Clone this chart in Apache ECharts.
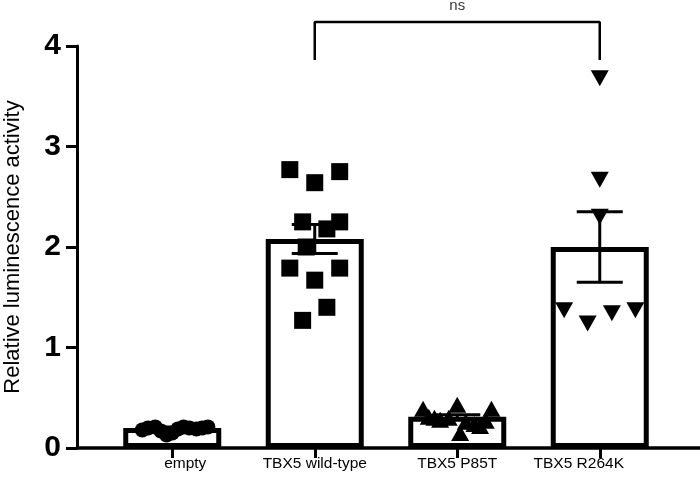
<!DOCTYPE html>
<html>
<head>
<meta charset="utf-8">
<script src="https://cdn.jsdelivr.net/npm/echarts@6/dist/echarts.min.js"></script>
<style>html,body{margin:0;padding:0;background:#fff}#c{width:700px;height:500px}</style>
</head>
<body>
<div id="c"></div>
<script>
var categories = ['empty', 'TBX5 wild-type', 'TBX5 P85T', 'TBX5 R264K'];
var means = [0.20, 2.08, 0.31, 2.00];
var sems = [0.01, 0.145, 0.02, 0.35];
var yTicks = [0, 1, 2, 3, 4];

// individual replicate values (y) and their horizontal jitter (in category units)
var emptyY  = [0.18, 0.20, 0.21, 0.17, 0.13, 0.15, 0.19, 0.21, 0.20, 0.19, 0.20, 0.21];
var emptyDx = [-0.21, -0.17, -0.12, -0.08, -0.04, 0.0, 0.04, 0.08, 0.12, 0.17, 0.21, 0.25];
var wtY  = [2.77, 2.64, 2.75, 2.25, 2.25, 2.18, 2.00, 1.79, 1.67, 1.79, 1.40, 1.27];
var wtDx = [-0.175, 0.0, 0.175, -0.085, 0.175, 0.085, -0.06, -0.175, 0.0, 0.175, 0.085, -0.085];
var p85Y  = [0.39, 0.43, 0.39, 0.31, 0.28, 0.30, 0.26, 0.24, 0.27, 0.30, 0.22, 0.15];
var p85Dx = [-0.24, 0.0, 0.24, -0.20, -0.12, -0.06, 0.06, 0.12, 0.20, -0.16, 0.16, 0.02];
var r264Y  = [3.68, 2.67, 2.30, 1.37, 1.24, 1.34, 1.37];
var r264Dx = [0.0, 0.0, 0.0, -0.25, -0.085, 0.085, 0.25];

// significance bracket between wild-type (1) and R264K (3)
var bracketX = [1, 1, 3, 3];
var bracketY = [3.86, 4.24, 4.24, 3.86];
var sigText = 'ns';
var sigPos = [2, 4.40];

function pts(ci, ys, dxs) {
  return ys.map(function (y, i) { return [ci + dxs[i], y]; });
}

var font = '"Liberation Sans", Arial, sans-serif';
var chart = echarts.init(document.getElementById('c'));
var errData = means.map(function (m, i) { return [i, m - sems[i], m + sems[i]]; });

chart.setOption({
  animation: false,
  backgroundColor: '#fff',
  grid: [
    { left: 77, right: 0, top: 46, bottom: 52, containLabel: false, outerBoundsMode: 'none' },
    { left: 101, right: 29, top: 46, bottom: 52, containLabel: false, outerBoundsMode: 'none' }
  ],
  xAxis: [
    { gridIndex: 0, type: 'value', min: 0, max: 1,
      axisLine: { show: true, lineStyle: { color: '#000', width: 3.5 } },
      axisTick: { show: false }, axisLabel: { show: false }, splitLine: { show: false } },
    { gridIndex: 1, type: 'category', data: categories,
      axisLine: { show: false },
      axisTick: { show: true, alignWithLabel: true, length: 10, lineStyle: { color: '#000', width: 3 } },
      axisLabel: { color: '#000', fontSize: 15.5, fontFamily: font, margin: 8,
        formatter: function (v, i) { return i === 0 ? '{r|' + v + '}' : (i === 3 ? '{l|' + v + '}' : v); },
        rich: {
          r: { color: '#000', fontSize: 15.5, fontFamily: font, padding: [0, 0, 0, 26] },
          l: { color: '#000', fontSize: 15.5, fontFamily: font, padding: [0, 42, 0, 0] }
        } } },
    { gridIndex: 1, type: 'value', min: -0.5, max: 3.5, show: false }
  ],
  yAxis: [
    { gridIndex: 0, type: 'value', min: yTicks[0], max: yTicks[yTicks.length - 1], interval: 1,
      name: 'Relative luminescence activity', nameLocation: 'middle', nameGap: 53,
      nameTextStyle: { color: '#000', fontSize: 22, fontFamily: font },
      axisLine: { show: true, lineStyle: { color: '#000', width: 3 } },
      axisTick: { show: true, length: 11, lineStyle: { color: '#000', width: 3 } },
      axisLabel: { color: '#000', fontSize: 30, fontWeight: 'bold', fontFamily: font, margin: 16 },
      splitLine: { show: false } },
    { gridIndex: 1, type: 'value', min: 0, max: 4, show: false }
  ],
  series: [
    { type: 'bar', xAxisIndex: 1, yAxisIndex: 1, data: means, barWidth: 98, z: 1,
      itemStyle: { color: '#fff', borderColor: '#000', borderWidth: 5 } },
    { type: 'custom', xAxisIndex: 1, yAxisIndex: 1, data: errData, z: 3,
      renderItem: function (params, api) {
        var lo = api.coord([api.value(0), api.value(1)]);
        var hi = api.coord([api.value(0), api.value(2)]);
        var hw = 23;
        var st = { stroke: '#000', lineWidth: 3 };
        return { type: 'group', children: [
          { type: 'line', shape: { x1: hi[0], y1: hi[1], x2: lo[0], y2: lo[1] }, style: st },
          { type: 'line', shape: { x1: hi[0] - hw, y1: hi[1], x2: hi[0] + hw, y2: hi[1] }, style: st },
          { type: 'line', shape: { x1: lo[0] - hw, y1: lo[1], x2: lo[0] + hw, y2: lo[1] }, style: st }
        ] };
      } },
    { type: 'scatter', xAxisIndex: 2, yAxisIndex: 1, z: 2, symbol: 'circle', symbolSize: 15,
      itemStyle: { color: '#000', opacity: 1 }, data: pts(0, emptyY, emptyDx) },
    { type: 'scatter', xAxisIndex: 2, yAxisIndex: 1, z: 2, symbol: 'rect', symbolSize: 17,
      itemStyle: { color: '#000', opacity: 1 }, data: pts(1, wtY, wtDx) },
    { type: 'scatter', xAxisIndex: 2, yAxisIndex: 1, z: 2, symbol: 'triangle', symbolSize: [18, 16],
      itemStyle: { color: '#000', opacity: 1 }, data: pts(2, p85Y, p85Dx) },
    { type: 'scatter', xAxisIndex: 2, yAxisIndex: 1, z: 2, symbol: 'triangle', symbolRotate: 180, symbolSize: [18, 16],
      itemStyle: { color: '#000', opacity: 1 }, data: pts(3, r264Y, r264Dx) },
    { type: 'line', xAxisIndex: 2, yAxisIndex: 1, clip: false, symbol: 'none', z: 5,
      lineStyle: { color: '#000', width: 2.5 },
      data: bracketX.map(function (x, i) { return [x, bracketY[i]]; }) },
    { type: 'scatter', xAxisIndex: 2, yAxisIndex: 1, clip: false, symbolSize: 0, z: 5,
      label: { show: true, position: 'inside', formatter: sigText, color: '#000', fontSize: 15, fontFamily: font },
      data: [sigPos] }
  ]
});
</script>
</body>
</html>
